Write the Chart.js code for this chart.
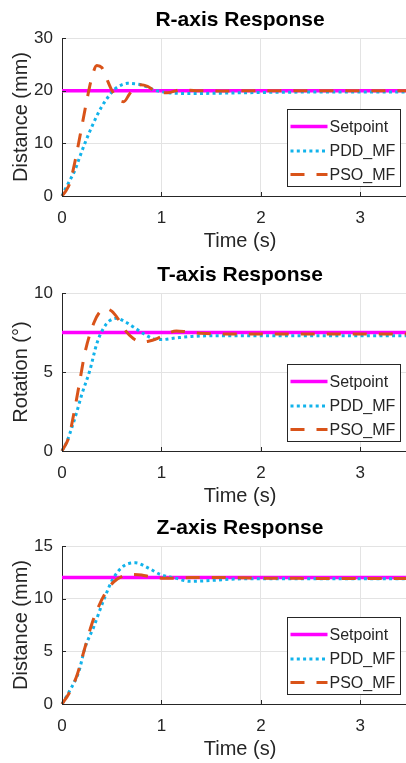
<!doctype html>
<html lang="en">
<head>
<meta charset="utf-8">
<title>Axis Response</title>
<style>
  html, body { margin: 0; padding: 0; background: #fff; overflow: hidden; }
  #wrap { position: relative; width: 406px; height: 763px; overflow: hidden; }
  canvas { position: absolute; left: 0; }
</style>
</head>
<body>
<div id="wrap">
  <canvas id="chart-r" width="418" height="255" style="top:0px"></canvas>
  <canvas id="chart-t" width="418" height="255" style="top:255px"></canvas>
  <canvas id="chart-z" width="418" height="255" style="top:508px"></canvas>
</div>

<script src="https://cdn.jsdelivr.net/npm/chart.js@4.4.1/dist/chart.umd.min.js"></script>
<script>
  // series names (legend order)
  const seriesNames = ['Setpoint', 'PDD_MF', 'PSO_MF'];

  // R-axis (mm)
  const rSetT = [0, 3.6];
  const rSetY = [20, 20];
  const rPddT = [0, 0.03, 0.08, 0.13, 0.18, 0.23, 0.28, 0.33, 0.40, 0.48, 0.53, 0.60, 0.66, 0.73, 0.80, 0.87, 0.93, 1.00, 1.07, 1.15, 1.30, 1.50, 1.80, 2.20, 2.80, 3.60];
  const rPddY = [0, 1.2, 3.0, 4.9, 7.5, 10.0, 12.3, 14.4, 17.0, 19.2, 20.3, 21.1, 21.4, 21.3, 21.1, 20.6, 20.1, 19.8, 19.6, 19.5, 19.45, 19.5, 19.6, 19.7, 19.75, 19.75];
  const rPsoT = [0, 0.04, 0.08, 0.13, 0.18, 0.25, 0.30, 0.35, 0.40, 0.44, 0.50, 0.56, 0.62, 0.68, 0.74, 0.79, 0.86, 0.94, 1.06, 1.20, 1.35, 1.60, 2.00, 3.60];
  const rPsoY = [0, 1.0, 2.5, 6.5, 11.3, 18.2, 22.5, 24.8, 24.4, 22.7, 20.1, 18.4, 17.9, 19.4, 20.8, 21.1, 20.8, 19.9, 19.6, 20.2, 20.0, 19.95, 20.0, 20.0];

  // T-axis (deg)
  const tSetT = [0, 3.6];
  const tSetY = [7.5, 7.5];
  const tPddT = [0, 0.05, 0.10, 0.15, 0.20, 0.28, 0.35, 0.42, 0.48, 0.55, 0.63, 0.73, 0.84, 0.92, 1.00, 1.14, 1.30, 1.60, 2.00, 3.60];
  const tPddY = [0, 0.6, 1.5, 2.5, 3.6, 5.1, 6.8, 7.8, 8.25, 8.4, 8.2, 7.8, 7.35, 7.1, 7.05, 7.15, 7.25, 7.3, 7.3, 7.3];
  const tPsoT = [0, 0.07, 0.12, 0.17, 0.23, 0.32, 0.38, 0.44, 0.50, 0.56, 0.64, 0.72, 0.80, 0.87, 0.95, 1.05, 1.15, 1.25, 1.40, 1.70, 2.20, 3.60];
  const tPsoY = [0, 0.9, 2.4, 4.1, 6.2, 8.1, 8.8, 9.0, 8.85, 8.4, 7.6, 7.1, 6.9, 6.95, 7.1, 7.4, 7.6, 7.55, 7.45, 7.4, 7.4, 7.4];

  // Z-axis (mm)
  const zSetT = [0, 3.6];
  const zSetY = [12, 12];
  const zPddT = [0, 0.08, 0.17, 0.23, 0.32, 0.42, 0.52, 0.62, 0.74, 0.87, 0.99, 1.14, 1.28, 1.45, 1.70, 2.00, 2.50, 3.60];
  const zPddY = [0, 1.3, 3.1, 5.3, 7.35, 9.9, 12.0, 13.1, 13.4, 12.9, 12.3, 11.95, 11.65, 11.7, 11.85, 11.9, 11.9, 11.9];
  const zPsoT = [0, 0.07, 0.15, 0.22, 0.30, 0.37, 0.44, 0.52, 0.60, 0.70, 0.80, 0.90, 1.00, 1.15, 1.30, 1.60, 2.00, 3.60];
  const zPsoY = [0, 1.0, 2.7, 5.0, 7.6, 9.3, 10.6, 11.6, 12.1, 12.3, 12.25, 12.05, 11.95, 11.95, 12.0, 12.0, 11.95, 11.9];

  const FONT = "'Liberation Sans', Arial, sans-serif";
  const INK = '#262626';
  const colors = ['#FF00FF', '#12B3EB', '#D95319'];
  const widths = [3.5, 3, 3];
  const dashes = [[], [3, 3.3], [14, 12]];

  function pts(xs, ys) {
    return xs.map((x, i) => ({ x: x, y: ys[i] }));
  }

  // matlab style ticks pointing into the plot
  const innerTicks = {
    id: 'innerTicks',
    afterDraw(chart) {
      const ctx = chart.ctx, a = chart.chartArea;
      const xs = chart.scales.x, ys = chart.scales.y;
      ctx.save();
      ctx.strokeStyle = INK;
      ctx.lineWidth = 1;
      ctx.beginPath();
      ys.ticks.forEach(t => {
        const py = Math.round(ys.getPixelForValue(t.value)) + 0.5;
        ctx.moveTo(a.left, py);
        ctx.lineTo(a.left + 4, py);
      });
      xs.ticks.forEach(t => {
        const px = Math.round(xs.getPixelForValue(t.value)) + 0.5;
        ctx.moveTo(px, a.bottom);
        ctx.lineTo(px, a.bottom - 4);
      });
      ctx.stroke();
      ctx.restore();
    }
  };

  // boxed legend in the lower right of the plot
  const boxLegend = {
    id: 'boxLegend',
    afterDraw(chart) {
      const ctx = chart.ctx, a = chart.chartArea;
      const w = 113, h = 77;
      const left = Math.round(a.right - 18 - w) + 0.5;
      const top = Math.round(a.bottom - 10 - h) + 0.5;
      const rows = [17, 41.5, 65];
      ctx.save();
      ctx.fillStyle = '#fff';
      ctx.fillRect(left, top, w, h);
      ctx.strokeStyle = INK;
      ctx.lineWidth = 1;
      ctx.strokeRect(left, top, w, h);
      chart.data.datasets.forEach((ds, i) => {
        const y = top + rows[i];
        ctx.beginPath();
        ctx.strokeStyle = ds.borderColor;
        ctx.lineWidth = ds.borderWidth;
        ctx.setLineDash(ds.borderDash || []);
        ctx.moveTo(left + 3, y);
        ctx.lineTo(left + 40, y);
        ctx.stroke();
        ctx.setLineDash([]);
        ctx.fillStyle = INK;
        ctx.font = '16px ' + FONT;
        ctx.textAlign = 'left';
        ctx.textBaseline = 'middle';
        ctx.fillText(ds.label, left + 42, y + 1);
      });
      ctx.restore();
    }
  };

  function makeChart(id, title, yLabel, yMax, yStep, setT, setY, pddT, pddY, psoT, psoY) {
    const series = [pts(setT, setY), pts(pddT, pddY), pts(psoT, psoY)];
    const order = [3, 2, 1];
    return new Chart(document.getElementById(id), {
      type: 'line',
      data: {
        datasets: series.map((d, i) => ({
          label: seriesNames[i],
          data: d,
          borderColor: colors[i],
          borderWidth: widths[i],
          borderDash: dashes[i],
          borderCapStyle: 'butt',
          cubicInterpolationMode: 'monotone',
          pointRadius: 0,
          fill: false,
          clip: 4,
          order: order[i]
        }))
      },
      options: {
        responsive: false,
        animation: false,
        layout: { padding: 0 },
        plugins: {
          legend: { display: false },
          tooltip: { enabled: false },
          title: {
            display: true,
            text: title,
            fullSize: false,
            color: '#000',
            font: { family: FONT, size: 21, weight: 'bold', lineHeight: 1.2 },
            padding: { top: 7.4, bottom: 5.4 }
          }
        },
        scales: {
          x: {
            type: 'linear',
            min: 0,
            max: 3.58,
            ticks: { stepSize: 1, includeBounds: false, color: INK, padding: 12, font: { family: FONT, size: 17 } },
            grid: { color: '#e3e3e3', drawTicks: false },
            border: { color: INK, width: 1 },
            title: { display: true, text: 'Time (s)', color: INK, font: { family: FONT, size: 20, lineHeight: 1.2 }, padding: { top: 0, bottom: 1.5 } },
            afterFit: s => { s.height = 59; }
          },
          y: {
            min: 0,
            max: yMax,
            ticks: { stepSize: yStep, color: INK, padding: 9, font: { family: FONT, size: 17 } },
            grid: { color: '#e3e3e3', drawTicks: false },
            border: { color: INK, width: 1 },
            title: { display: true, text: yLabel, color: INK, font: { family: FONT, size: 20, lineHeight: 1.2 }, padding: { top: 9.5, bottom: 0 } },
            afterFit: s => { s.width = 62; }
          }
        }
      },
      plugins: [innerTicks, boxLegend]
    });
  }

  makeChart('chart-r', 'R-axis Response', 'Distance (mm)', 30, 10, rSetT, rSetY, rPddT, rPddY, rPsoT, rPsoY);
  makeChart('chart-t', 'T-axis Response', 'Rotation (°)', 10, 5, tSetT, tSetY, tPddT, tPddY, tPsoT, tPsoY);
  makeChart('chart-z', 'Z-axis Response', 'Distance (mm)', 15, 5, zSetT, zSetY, zPddT, zPddY, zPsoT, zPsoY);
</script>
</body>
</html>
